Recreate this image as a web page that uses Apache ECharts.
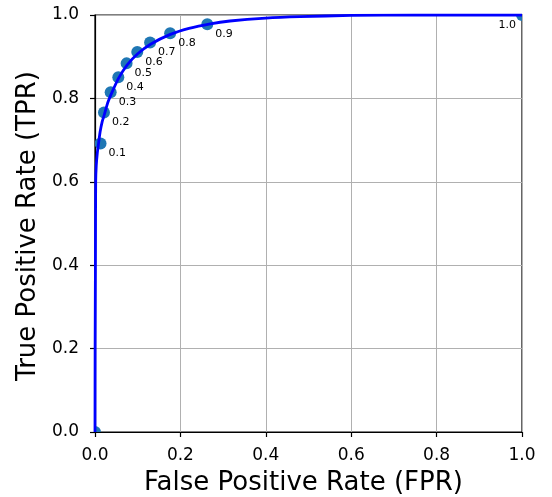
<!DOCTYPE html>
<html>
<head>
<meta charset="utf-8">
<script src="https://cdn.jsdelivr.net/npm/echarts@6/dist/echarts.min.js"></script>
<style>
html,body{margin:0;padding:0;background:#fff;}
#chart{width:552px;height:497px;}
</style>
</head>
<body>
<div id="chart"></div>
<script>
// ROC curve
const curveFPR = [0, 0.0003, 0.001, 0.0016, 0.003, 0.0054, 0.008, 0.012, 0.017, 0.021, 0.03, 0.04, 0.055, 0.075, 0.1, 0.13, 0.175, 0.22, 0.27, 0.316, 0.4, 0.48, 0.6, 0.75, 1];
const curveTPR = [0, 0.2, 0.4, 0.6, 0.64, 0.669, 0.69, 0.72, 0.745, 0.758, 0.79, 0.815, 0.848, 0.88, 0.907, 0.93, 0.953, 0.968, 0.979, 0.9856, 0.9925, 0.996, 0.999, 1.0, 1.0];
// threshold points
const pointFPR = [0, 0.013, 0.021, 0.0367, 0.0546, 0.074, 0.099, 0.129, 0.176, 0.263, 1];
const pointTPR = [0, 0.692, 0.766, 0.815, 0.851, 0.884, 0.911, 0.934, 0.956, 0.978, 1];
const pointLabels = ['', '0.1', '0.2', '0.3', '0.4', '0.5', '0.6', '0.7', '0.8', '0.9', '1.0'];
const tickLabels = ['0.0', '0.2', '0.4', '0.6', '0.8', '1.0'];

const curveData = curveFPR.map((x, i) => [x, curveTPR[i]]);
const pointData = pointFPR.map((x, i) => [x, pointTPR[i], pointLabels[i]]);

const FONT = 'DejaVu Sans';
const chart = echarts.init(document.getElementById('chart'), null, {renderer: 'canvas'});

function axisCommon(name, gap, margin, namePad) {
  return {
    type: 'value', min: 0, max: 1, interval: 0.2,
    name: name, nameLocation: 'middle', nameGap: gap,
    nameTextStyle: {fontFamily: FONT, fontSize: 26, color: '#000', padding: namePad},
    axisLine: {show: true, onZero: false, lineStyle: {color: '#000', width: 1.2}},
    axisTick: {show: true, inside: false, length: 5, lineStyle: {color: '#000', width: 1.2}},
    axisLabel: {
      fontFamily: FONT, fontSize: 17, color: '#000', margin: margin,
      formatter: v => tickLabels[Math.round(v / 0.2)]
    },
    splitLine: {show: true, lineStyle: {color: '#b0b0b0', width: 1}}
  };
}

const xAx = axisCommon('False Positive Rate (FPR)', 38, 15, [0, 10, 0, 0]);
const yAx = axisCommon('True Positive Rate (TPR)', 50, 16, [0, 5, 0, 0]);

chart.setOption({
  animation: false,
  backgroundColor: '#fff',
  grid: {left: 95, top: 15, right: 30, bottom: 65, containLabel: false, outerBoundsMode: 'none',
    show: true, borderColor: '#000', borderWidth: 1.2, backgroundColor: 'transparent'},
  xAxis: xAx,
  yAxis: yAx,
  series: [
    {
      type: 'custom',
      clip: true,
      z: 2,
      data: pointData,
      renderItem: function (params, api) {
        const p = api.coord([api.value(0), api.value(1)]);
        const lab = pointLabels[params.dataIndex];
        const right = api.value(0) >= 1;
        const children = [{
          type: 'circle',
          shape: {cx: p[0], cy: p[1], r: 6},
          style: {fill: '#1f77b4'}
        }];
        if (lab) {
          children.push({
            type: 'text',
            x: right ? p[0] - 6 : p[0] + 8,
            y: p[1] + 10,
            style: {text: lab, fontFamily: FONT, fontSize: 11, fill: '#000',
              align: right ? 'right' : 'left', verticalAlign: 'middle'}
          });
        }
        return {type: 'group', children: children};
      }
    },
    {
      type: 'line',
      data: curveData,
      showSymbol: false,
      symbol: 'none',
      smooth: 0.2,
      clip: true,
      z: 3,
      lineStyle: {color: '#0000ff', width: 2.8}
    }
  ]
});
</script>
</body>
</html>
